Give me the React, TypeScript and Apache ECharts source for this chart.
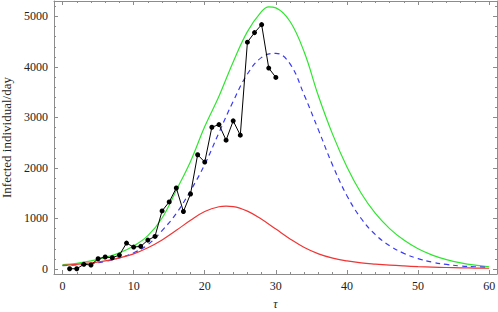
import React, { useEffect, useRef } from "react";
import * as echarts from "echarts";

// observed daily infections (black dots)
const dayT = [1, 2, 3, 4, 5, 6, 7, 8, 9, 10, 11, 12, 13, 14, 15, 16, 17, 18, 19, 20, 21, 22, 23, 24, 25, 26, 27, 28, 29, 30];
const dayInfected = [5, 5, 93, 79, 203, 237, 223, 276, 513, 434, 448, 572, 645, 1150, 1328, 1604, 1138, 1485, 2262, 2117, 2807, 2860, 2551, 2933, 2649, 4491, 4680, 4838, 3978, 3793];

// green model curve
const greenT = [0, 2, 4, 6, 8, 10, 12, 14, 16, 18, 20, 22, 24, 26, 28, 29, 30, 32, 34, 36, 38, 40, 42, 44, 46, 48, 50, 52, 54, 56, 58, 60];
const greenV = [85, 112, 160, 230, 320, 455, 660, 1010, 1560, 2130, 2820, 3420, 4100, 4700, 5100, 5190, 5170, 4900, 4290, 3420, 2660, 2020, 1500, 1100, 800, 572, 400, 275, 185, 120, 75, 45];

// blue dashed model curve
const blueT = [0, 2, 4, 6, 8, 10, 12, 14, 16, 18, 20, 22, 24, 26, 28, 30, 32, 34, 36, 38, 40, 42, 44, 46, 48, 50, 52, 54, 56, 58, 60];
const blueV = [65, 80, 105, 150, 220, 320, 480, 760, 1100, 1550, 2070, 2700, 3320, 3860, 4190, 4270, 4060, 3440, 2750, 2050, 1450, 1000, 680, 460, 310, 205, 135, 90, 60, 45, 35];

// red model curve
const redT = [0, 2, 4, 6, 8, 10, 12, 14, 16, 18, 20, 22, 23, 24, 26, 28, 30, 32, 34, 36, 38, 40, 42, 44, 46, 48, 50, 52, 54, 56, 58, 60];
const redV = [70, 92, 120, 160, 220, 300, 420, 575, 765, 965, 1140, 1232, 1243, 1235, 1145, 985, 790, 595, 425, 300, 215, 160, 120, 95, 75, 60, 48, 38, 30, 24, 19, 15];

const xMajor = [0, 10, 20, 30, 40, 50, 60];
const xMinor = [2, 4, 6, 8, 12, 14, 16, 18, 22, 24, 26, 28, 32, 34, 36, 38, 42, 44, 46, 48, 52, 54, 56, 58];
const yMajor = [0, 1000, 2000, 3000, 4000, 5000];
const yMinor = [200, 400, 600, 800, 1200, 1400, 1600, 1800, 2200, 2400, 2600, 2800, 3200, 3400, 3600, 3800, 4200, 4400, 4600, 4800, 5200];

const X_MIN = -1.2;
const X_MAX = 61.1;
const Y_MIN = -99;
const Y_MAX = 5306;

const FRAME = "#8c8c8c";
const FONT = "'Liberation Serif', 'DejaVu Serif', serif";

const zip = (a: number[], b: number[]) => a.map((v, i) => [v, b[i]]);

export default function App() {
  const ref = useRef<HTMLDivElement>(null);
  useEffect(() => {
    if (!ref.current) return;
    const chart = echarts.init(ref.current, undefined, { renderer: "svg" });
    const xBase = (position: "bottom" | "top", values: number[], len: number, showLine: boolean, showLabel: boolean, name?: string) => ({
      type: "value" as const,
      position,
      min: X_MIN,
      max: X_MAX,
      splitNumber: 6,
      splitLine: { show: false },
      axisLine: { show: showLine, onZero: false, lineStyle: { color: FRAME, width: 1 } },
      axisTick: { show: true, inside: true, length: len, customValues: values, lineStyle: { color: FRAME, width: 1 } },
      minorTick: { show: false },
      axisLabel: showLabel
        ? { show: true, customValues: values, margin: 6, color: "#222", fontFamily: FONT, fontSize: 12, formatter: (v: number) => String(v) }
        : { show: false },
      name: name,
      nameLocation: "middle" as const,
      nameGap: 24,
      nameTextStyle: { fontFamily: FONT, fontSize: 12, fontStyle: "italic" as const, color: "#222" },
    });
    const yBase = (position: "left" | "right", values: number[], len: number, showLine: boolean, showLabel: boolean, name?: string) => ({
      type: "value" as const,
      position,
      min: Y_MIN,
      max: Y_MAX,
      splitNumber: 5,
      splitLine: { show: false },
      axisLine: { show: showLine, onZero: false, lineStyle: { color: FRAME, width: 1 } },
      axisTick: { show: true, inside: true, length: len, customValues: values, lineStyle: { color: FRAME, width: 1 } },
      minorTick: { show: false },
      axisLabel: showLabel
        ? { show: true, customValues: values, margin: 6, color: "#222", fontFamily: FONT, fontSize: 12, formatter: (v: number) => String(v) }
        : { show: false },
      name: name,
      nameLocation: "middle" as const,
      nameGap: 38,
      nameTextStyle: { fontFamily: FONT, fontSize: 13, color: "#222" },
    });
    chart.setOption({
      animation: false,
      backgroundColor: "#fff",
      grid: { left: 54, right: 1, top: 1, bottom: 38, containLabel: false, outerBoundsMode: "none" },
      xAxis: [
        xBase("bottom", xMajor, 4, true, true, "τ"),
        xBase("bottom", xMinor, 2, false, false),
        xBase("top", xMajor, 4, true, false),
        xBase("top", xMinor, 2, false, false),
      ],
      yAxis: [
        yBase("left", yMajor, 4, true, true, "Infected individual/day"),
        yBase("left", yMinor, 2, false, false),
        yBase("right", yMajor, 4, true, false),
        yBase("right", yMinor, 2, false, false),
      ],
      series: [
        {
          type: "line",
          data: zip(greenT, greenV),
          smooth: 0.4,
          showSymbol: false,
          lineStyle: { color: "#2fe62f", width: 1.2 },
          silent: true,
          z: 2,
        },
        {
          type: "line",
          data: zip(blueT, blueV),
          smooth: 0.4,
          showSymbol: false,
          lineStyle: { color: "#3a3af5", width: 1.2, type: [5, 4] },
          silent: true,
          z: 2,
        },
        {
          type: "line",
          data: zip(redT, redV),
          smooth: 0.4,
          showSymbol: false,
          lineStyle: { color: "#f03535", width: 1.2 },
          silent: true,
          z: 2,
        },
        {
          type: "line",
          data: zip(dayT, dayInfected),
          showSymbol: true,
          symbol: "circle",
          symbolSize: 5,
          itemStyle: { color: "#000" },
          lineStyle: { color: "#000", width: 1 },
          silent: true,
          z: 3,
        },
      ],
    });
    return () => chart.dispose();
  }, []);
  return <div ref={ref} style={{ width: 498, height: 312, position: "absolute", left: 0, top: 0 }} />;
}
